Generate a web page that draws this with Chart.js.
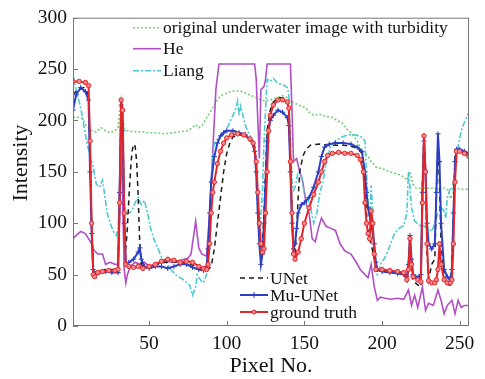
<!DOCTYPE html>
<html><head><meta charset="utf-8">
<script src="https://cdn.jsdelivr.net/npm/chart.js@4.4.1/dist/chart.umd.min.js"></script>
<style>html,body{margin:0;padding:0;background:#fff}#wrap{width:485px;height:379px}</style>
</head><body><div id="wrap"><canvas id="c" width="485" height="379"></canvas></div>
<script>
const xTickValues = [50, 100, 150, 200, 250];
const yTickValues = [0, 50, 100, 150, 200, 250, 300];

const origX = [1,5,7,9,11,13,16,19,22,25,28,30,31,32,33,34,36,40,45,50,55,60,65,70,75,78,80,82,84,86,88,90,92,94,96,99,102,106,110,113,116,119,122,125,128,132,136,139,142,145,148,151,153,156,160,164,168,171,174,177,180,184,187,189,191,193,196,200,205,210,214,216,218,220,222,226,230,235,240,243,244,246,248,252,256];
const origY = [203,203,202,196,193,190,189,193,190,188,190,193,210,220,205,192,190,189,189,188,188,187,188,189,190,193,196,193,195,200,205,210,215,220,224,226,228,229,228,226,224,222,220,219,220,222,224,222,218,216,214,212,208,205,206,204,203,200,198,192,188,180,170,168,165,160,155,153,150,148,145,142,150,138,134,134,134,134,134,132,124,130,134,133,133];

const heX = [1,3,6,9,11,13,14,15,17,20,22,25,28,30,31,32,33,34,35,36,38,41,44,47,50,55,60,65,70,75,77,80,82,84,87,89,91,93,95,118,119,120,121,122,124,125,126,141,142,143,145,147,149,151,153,155,157,159,161,164,167,170,173,176,180,183,186,189,191,193,195,197,199,202,206,210,214,217,219,221,223,226,228,230,233,236,238,240,242,245,247,249,251,253,256];
const heY = [85,88,92,90,85,80,75,73,70,70,60,62,60,60,100,180,120,55,42,50,58,62,60,62,58,60,63,62,64,66,70,102,76,70,68,110,170,230,255,255,240,200,163,230,233,240,255,255,210,160,163,150,140,120,110,85,82,95,105,97,95,93,80,73,70,63,55,50,47,60,38,25,28,27,26,27,26,35,20,30,18,38,15,22,20,35,25,12,20,25,12,25,18,20,20];

const liangX = [1,3,6,8,10,12,14,16,18,20,21,23,25,27,29,30,31,32,33,34,35,37,39,41,43,45,47,49,51,53,55,58,61,64,67,70,73,76,78,80,81,83,85,87,89,90,91,92,94,97,101,104,106,107,108,109,110,112,114,116,118,120,121,123,124,126,128,130,133,136,139,140,141,142,143,144,146,148,150,152,154,156,158,160,162,164,167,170,174,178,182,186,189,190,191,192,193,194,195,196,197,199,202,205,208,211,214,216,217,218,219,221,224,227,230,232,234,236,238,240,241,242,244,245,247,249,251,253,255,256];
const liangY = [244,230,212,195,178,165,155,138,135,142,132,110,100,92,88,95,130,190,160,120,108,110,112,120,125,118,122,110,95,85,78,67,62,55,50,47,44,40,30,38,50,45,42,50,100,140,165,178,182,185,195,205,212,219,205,214,208,195,188,182,170,110,83,130,180,240,238,241,236,235,232,225,180,140,132,135,150,148,128,125,115,100,110,130,140,160,175,180,184,186,186,185,180,150,120,100,137,110,75,51,50,60,67,78,90,95,98,110,150,135,115,102,98,97,95,92,100,110,115,112,105,125,134,133,150,175,190,198,205,208];

const unetX = [1,4,8,11,12,13,14,15,18,22,26,30,31,32,33,34,35,36,37,38,39,40,41,42,43,44,45,47,50,55,60,65,70,75,80,85,88,90,92,94,96,98,100,102,104,108,112,116,118,119,120,121,122,123,124,125,126,128,130,133,136,139,140,141,142,143,144,145,146,147,149,151,154,160,165,170,175,180,184,187,189,190,191,192,193,195,196,200,205,210,214,216,217,218,219,220,223,225,226,227,228,229,230,232,234,235,236,237,238,240,242,244,245,246,247,248,250,253,256];
const unetY = [225,230,232,225,170,100,60,52,54,55,55,55,130,215,200,100,75,95,125,150,170,177,175,160,125,80,60,56,58,60,62,62,62,61,58,55,55,58,75,100,125,150,168,178,184,186,185,180,175,160,120,90,75,80,110,150,190,210,218,222,222,218,212,160,110,80,70,95,125,150,165,172,176,177,176,176,176,175,173,168,140,110,95,88,80,65,55,54,53,52,50,44,55,80,55,44,40,38,140,188,150,70,45,60,65,130,180,140,80,50,40,40,60,110,165,172,171,169,166];

const muX = [1,3,6,9,11,12,13,14,15,18,22,26,30,31,32,33,34,35,37,40,43,44,45,47,50,54,58,62,66,70,74,78,82,85,87,88,89,90,92,94,96,98,100,104,108,112,116,118,119,120,121,122,123,124,125,126,128,130,133,136,139,140,141,142,143,144,145,146,148,150,153,156,159,161,163,166,170,175,180,184,187,189,190,191,193,195,196,197,200,205,210,214,216,217,218,219,220,223,225,226,227,228,229,230,232,234,235,236,237,238,240,242,244,245,246,247,248,250,253,256];
const muY = [210,225,232,228,220,150,90,55,50,52,53,52,52,130,215,190,100,60,62,65,72,76,65,58,56,58,58,56,58,60,60,57,55,54,58,75,110,140,165,178,185,188,190,190,188,186,180,170,150,110,80,60,70,100,140,180,200,205,210,208,203,195,150,100,75,80,95,110,118,120,125,135,150,165,174,177,178,178,177,174,170,150,130,115,100,80,62,55,53,52,51,50,48,60,88,65,50,47,50,130,180,150,100,80,75,80,130,187,160,100,55,48,45,55,110,160,172,172,170,168];

const gtX = [1,5,9,11,12,13,14,15,17,20,24,28,30,31,32,33,34,35,37,40,43,46,50,54,58,62,66,70,74,78,82,85,87,88,89,90,91,92,94,96,98,100,103,107,111,115,117,119,120,121,122,123,124,125,126,127,128,130,133,136,139,140,141,142,143,144,146,148,150,153,156,159,161,163,165,168,172,176,180,184,186,188,189,190,191,192,193,194,195,196,200,205,210,214,216,217,218,219,220,223,225,226,227,228,229,230,232,234,235,236,237,238,240,242,244,245,246,247,248,250,253,256];
const gtY = [238,238,237,234,180,100,50,48,52,53,54,54,55,120,220,210,110,60,58,57,58,56,58,60,63,65,64,62,63,62,58,56,55,60,80,110,130,140,158,170,178,183,186,187,186,182,178,160,130,100,80,72,75,110,150,190,205,215,220,220,218,212,160,110,70,65,72,85,100,115,128,140,150,160,166,168,169,168,168,166,162,150,120,100,90,85,112,100,70,55,55,54,53,52,45,55,85,60,48,45,43,120,185,150,80,44,42,42,45,55,80,60,45,42,42,45,80,140,170,170,168,165];

const seriesNames = ['original underwater image with turbidity','He','Liang','UNet','Mu-UNet','ground truth'];
const yTitle = 'Intensity';
const xTitle = 'Pixel No.';

function pts(xs, ys){ return xs.map((x,i)=>({x:x, y:ys[i]})); }

const FONT = "'Liberation Serif', 'DejaVu Serif', serif";

const datasets = [
  {label: seriesNames[0], data: pts(origX, origY), borderColor:'#74cf74', borderWidth:1.6, borderDash:[2,2], pointRadius:0, order:6},
  {label: seriesNames[1], data: pts(heX, heY), borderColor:'#b150c4', borderWidth:1.6, pointRadius:0, order:5},
  {label: seriesNames[2], data: pts(liangX, liangY), borderColor:'#4ec9d4', borderWidth:1.6, borderDash:[6,2,2,2], pointRadius:0, order:4},
  {label: seriesNames[3], data: pts(unetX, unetY), borderColor:'#1a1a1a', borderWidth:1.5, borderDash:[5,4], pointRadius:0, order:3},
  {label: seriesNames[4], data: pts(muX, muY), borderColor:'#2a3fc4', borderWidth:2, pointStyle:'cross', pointRadius:2.6, pointBorderWidth:1, pointBorderColor:'#2a3fc4', order:2},
  {label: seriesNames[5], data: pts(gtX, gtY), borderColor:'#e3262b', borderWidth:2, pointStyle:'circle', pointRadius:2.2, pointBorderWidth:1, pointBorderColor:'#e3262b', pointBackgroundColor:'#f08c8c', order:1}
];

const framePlugin = {
  id: 'frame',
  afterDatasetsDraw(chart){
    const {ctx, chartArea:a, scales} = chart;
    ctx.save();
    ctx.strokeStyle = '#777';
    ctx.lineWidth = 1;
    ctx.strokeRect(a.left+0.5, a.top+0.5, a.right-a.left-1, a.bottom-a.top-1);
    ctx.beginPath();
    xTickValues.forEach(v=>{ const p = Math.round(scales.x.getPixelForValue(v))+0.5; ctx.moveTo(p, a.bottom); ctx.lineTo(p, a.bottom-5); });
    yTickValues.forEach(v=>{ const p = Math.round(scales.y.getPixelForValue(v))+0.5; ctx.moveTo(a.left, p); ctx.lineTo(a.left+5, p); });
    ctx.stroke();
    ctx.restore();
  },
  afterDraw(chart){
    const {ctx, chartArea:a} = chart;
    const ds = chart.data.datasets;
    function entry(i, x0, y){
      const d = ds[i];
      ctx.save();
      ctx.strokeStyle = d.borderColor;
      ctx.lineWidth = d.borderWidth;
      ctx.setLineDash(d.borderDash || []);
      ctx.beginPath(); ctx.moveTo(x0, y); ctx.lineTo(x0+28, y); ctx.stroke();
      ctx.setLineDash([]);
      if (d.pointRadius) {
        ctx.fillStyle = d.pointBackgroundColor || d.borderColor;
        ctx.strokeStyle = d.borderColor;
        ctx.lineWidth = 1;
        ctx.beginPath();
        if (d.pointStyle === 'circle') { ctx.arc(x0+14, y, 2, 0, Math.PI*2); ctx.fill(); ctx.stroke(); }
        else { ctx.moveTo(x0+14-3,y); ctx.lineTo(x0+14+3,y); ctx.moveTo(x0+14,y-3); ctx.lineTo(x0+14,y+3); ctx.stroke(); }
      }
      ctx.fillStyle = '#111';
      ctx.font = '17.5px ' + FONT;
      ctx.textBaseline = 'middle';
      ctx.textAlign = 'left';
      ctx.fillText(d.label, x0+30, y+1);
      ctx.restore();
    }
    const tx = a.left + 60;
    entry(0, tx, a.top + 10);
    entry(1, tx, a.top + 31);
    entry(2, tx, a.top + 53);
    const bx = a.left + 167;
    entry(3, bx, a.bottom - 48);
    entry(4, bx, a.bottom - 31);
    entry(5, bx, a.bottom - 14);

    ctx.save();
    ctx.fillStyle = '#111';
    ctx.font = '22px ' + FONT;
    ctx.textAlign = 'center';
    ctx.textBaseline = 'middle';
    ctx.translate(21, 163);
    ctx.rotate(-Math.PI/2);
    ctx.fillText(yTitle, 0, 0);
    ctx.restore();
  }
};

new Chart(document.getElementById('c'), {
  type: 'line',
  data: { datasets },
  options: {
    responsive: false,
    animation: false,
    devicePixelRatio: 1,
    layout: { padding: { top: 14, right: 16, left: 0, bottom: 0 } },
    plugins: { legend: { display: false }, tooltip: { enabled: false } },
    elements: { line: { tension: 0, fill: false } },
    scales: {
      x: {
        type: 'linear', min: 1, max: 256,
        afterBuildTicks(s){ s.ticks = xTickValues.map(v=>({value:v})); },
        afterFit(s){ s.height = 53; },
        grid: { display: false, drawTicks: false },
        border: { display: false },
        ticks: { color:'#111', font:{ family: FONT, size: 19.5 }, padding: 6, maxRotation: 0 },
        title: { display: true, text: xTitle, color:'#111', font:{ family: FONT, size: 22 }, padding:{ top: 0, bottom: 0 } }
      },
      y: {
        type: 'linear', min: 0, max: 300,
        afterBuildTicks(s){ s.ticks = yTickValues.map(v=>({value:v})); },
        afterFit(s){ s.width = 73; },
        grid: { display: false, drawTicks: false },
        border: { display: false },
        ticks: { color:'#111', font:{ family: FONT, size: 19.5 }, padding: 6 },
        title: { display: false }
      }
    }
  },
  plugins: [framePlugin]
});
</script>
</body></html>
